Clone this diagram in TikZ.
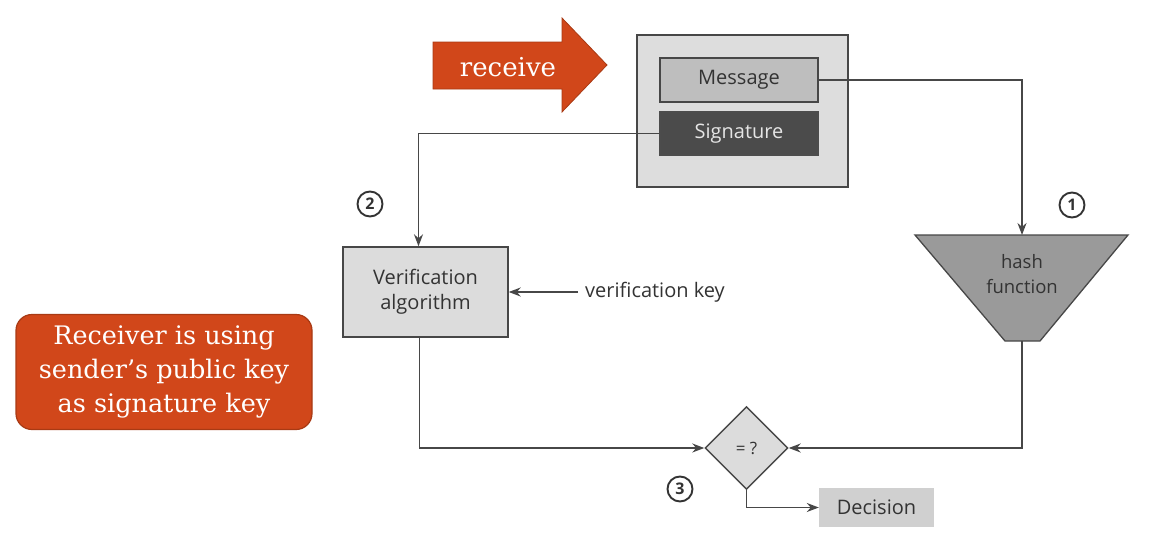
\documentclass[tikz,border=0pt]{standalone}
\usepackage{fontspec}
\setmainfont{Open Sans}
\newfontfamily\slab{DejaVu Serif}
\usetikzlibrary{shapes.geometric,arrows.meta,calc}
\definecolor{linec}{HTML}{474747}
\definecolor{txtc}{HTML}{333333}
\definecolor{outerc}{HTML}{DDDDDD}
\definecolor{msgc}{HTML}{BEBEBE}
\definecolor{sigc}{HTML}{4B4B4B}
\definecolor{boxc}{HTML}{DCDCDC}
\definecolor{hashc}{HTML}{9A9A9A}
\definecolor{decc}{HTML}{D0D0D0}
\definecolor{orangec}{HTML}{D1471A}
\definecolor{orangeb}{HTML}{A83A14}
\begin{document}
\begin{tikzpicture}[x=1pt,y=-1pt,
  conn/.style={draw=linec, line width=1.5pt, -{Stealth[length=12pt,width=9pt]}},
  gbox/.style={rectangle, draw=linec, line width=1.4pt, inner sep=0pt, text=txtc, align=center, font=\fontsize{20}{25}\selectfont},
  numc/.style={circle, draw=txtc, line width=1.9pt, minimum size=25pt, inner sep=0pt, text=txtc, font=\fontsize{16}{16}\selectfont\bfseries},
  orangetext/.style={text=white, align=center, font=\slab\fontsize{25.5}{34}\selectfont}]
\useasboundingbox (0,0) rectangle (1167,541);
% receive arrow
\fill[orangec] (433,42) -- (562,42) -- (562,18) -- (607,65) -- (562,112) -- (562,89) -- (433,89) -- cycle;
\draw[orangeb, line width=0.8pt] (433,42) -- (562,42) -- (562,18) -- (607,65) -- (562,112) -- (562,89) -- (433,89) -- cycle;
\node[orangetext, font=\slab\fontsize{26}{30}\selectfont] (receive) at (508,67) {receive};
% outer box
\node[gbox, fill=outerc, minimum width=211pt, minimum height=152pt] (outer) at (742.5,111) {};
\node[gbox, fill=msgc, minimum width=158pt, minimum height=44pt] (message) at (739,80) {Message};
\node[gbox, fill=sigc, draw=black!70, text=black!10, minimum width=158pt, minimum height=43pt] (signature) at (739,133.5) {Signature};
% verification
\node[gbox, fill=boxc, minimum width=165pt, minimum height=90pt] (verif) at (425.5,292) {Verification\\algorithm};
\node[anchor=west, text=txtc, font=\fontsize{20}{24}\selectfont, inner sep=0pt] (vkey) at (585,292) {verification key};
% hash
\coordinate (hashtop) at (1022,235);
\coordinate (hashbot) at (1022,341);
\filldraw[fill=hashc, draw=linec, line width=1.3pt] (915,235) -- (1128,235) -- (1040,341) -- (1005,341) -- cycle;
\node[text=txtc, align=center, font=\fontsize{18.5}{25}\selectfont] (hash) at (1022,274) {hash\\function};
% diamond
\node[diamond, draw=linec, line width=1.4pt, fill=boxc, minimum size=83pt, inner sep=0pt, text=txtc, font=\fontsize{17}{17}\selectfont] (eq) at (746.5,448) {= ?};
% decision
\node[rectangle, fill=decc, minimum width=115pt, minimum height=39pt, inner sep=0pt, text=txtc, font=\fontsize{20}{24}\selectfont] (decision) at (876.5,507.5) {Decision};
% numbers
\node[numc] (n1) at (1072,205) {1};
\node[numc] (n2) at (370,204) {2};
\node[numc] (n3) at (680,489) {3};
% connectors
\draw[conn] (message.east) -| (hashtop);
\draw[conn] (signature.west) -| ([xshift=-7pt]verif.north);
\draw[conn] ([xshift=-7pt]vkey.west) -- (verif.east);
\draw[conn] ([xshift=-6pt]verif.south) |- (eq.west);
\draw[conn] (hashbot) |- (eq.east);
\draw[conn] (eq.south) |- (decision.west);
% orange note
\node[rectangle, rounded corners=16pt, fill=orangec, draw=orangeb, line width=1.2pt, minimum width=296pt, minimum height=115pt, orangetext] (note) at (164,372) {Receiver is using\\sender’s public key\\as signature key};
\end{tikzpicture}
\end{document}
